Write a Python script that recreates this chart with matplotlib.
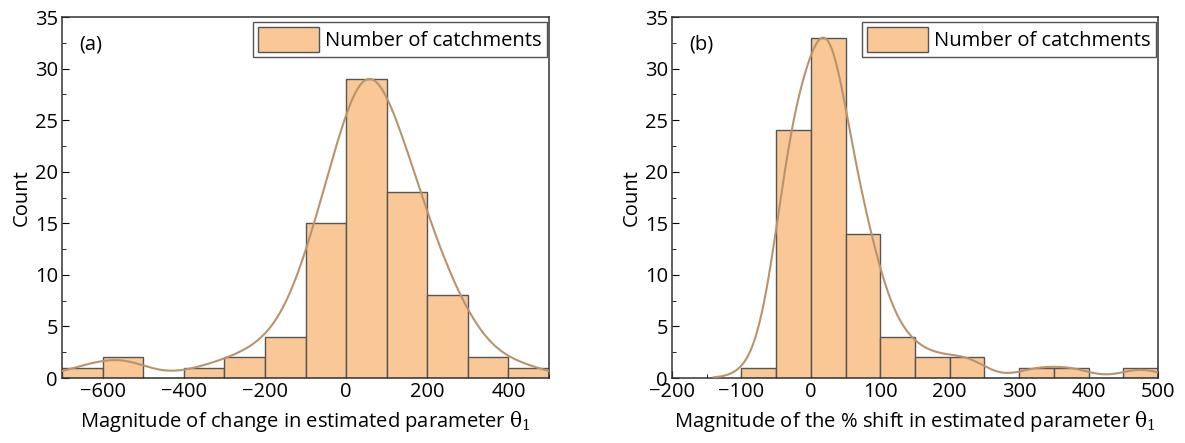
import numpy as np
import matplotlib
matplotlib.use('Agg')
import matplotlib.pyplot as plt
from matplotlib.ticker import MultipleLocator

plt.rcParams['font.family'] = ['Open Sans', 'DejaVu Sans']
plt.rcParams['mathtext.fontset'] = 'dejavuserif'

# --- data ---
# (a) change in theta_1, bins of 100 from -700 to 500
edges_a = [-700, -600, -500, -400, -300, -200, -100, 0, 100, 200, 300, 400, 500]
counts_a = [1, 2, 0, 1, 2, 4, 15, 29, 18, 8, 2, 1]
# (b) % shift in theta_1, bins of 50 from -100 to 500
edges_b = [-100, -50, 0, 50, 100, 150, 200, 250, 300, 350, 400, 450, 500]
counts_b = [1, 24, 33, 14, 4, 2, 2, 0, 1, 1, 0, 1]

bar_color = '#FAC896'
edge_color = '#555555'
curve_color = '#B8946E'
fs = 14.5


def kde_curve(edges, counts, h, x):
    # gaussian kernel smooth of the binned counts, scaled so peak = tallest bin
    centers = (np.array(edges[:-1]) + np.array(edges[1:])) / 2
    w = np.array(counts, dtype=float)
    y = (w[None, :] * np.exp(-(x[:, None] - centers[None, :]) ** 2 / (2 * h ** 2))).sum(axis=1)
    return y * max(counts) / y.max()


def draw(ax, edges, counts, h, xcurve, xlim, xticks, xlabel, tag):
    e = np.array(edges)
    ax.bar(e[:-1], counts, width=np.diff(e), align='edge', color=bar_color,
           edgecolor=edge_color, linewidth=1.0, label='Number of catchments', zorder=2)
    ax.plot(xcurve, kde_curve(edges, counts, h, xcurve), color=curve_color, lw=1.5, zorder=3)
    ax.set_xlim(*xlim)
    ax.set_ylim(0, 35)
    ax.set_xticks(xticks)
    ax.xaxis.set_minor_locator(MultipleLocator((xticks[1] - xticks[0]) / 2))
    ax.yaxis.set_major_locator(MultipleLocator(5))
    ax.yaxis.set_minor_locator(MultipleLocator(2.5))
    ax.tick_params(which='both', direction='in', top=False, right=False, labelsize=fs)
    ax.tick_params(which='major', length=5, pad=3)
    ax.tick_params(which='minor', length=3)
    for s in ax.spines.values():
        s.set_color('#333333')
        s.set_linewidth(1.1)
    ax.set_xlabel(xlabel, fontsize=fs, labelpad=5)
    ax.set_ylabel('Count', fontsize=fs, labelpad=2)
    ax.text(0.035, 0.925, tag, transform=ax.transAxes, fontsize=fs, va='center')
    leg = ax.legend(loc='upper right', bbox_to_anchor=(0.995, 0.985), fontsize=fs,
                    fancybox=False, framealpha=1, edgecolor='#555555',
                    handlelength=3.0, handleheight=1.5, borderpad=0.25,
                    handletextpad=0.3, borderaxespad=0.0)
    leg.get_frame().set_linewidth(1.0)


fig = plt.figure(figsize=(11.85, 4.43), dpi=100)
ax1 = fig.add_axes([62 / 1185, 1 - 378 / 443, 487 / 1185, 361 / 443])
ax2 = fig.add_axes([672 / 1185, 1 - 378 / 443, 486 / 1185, 361 / 443])

draw(ax1, edges_a, counts_a, 68, np.linspace(-700, 500, 400), (-700, 500),
     [-600, -400, -200, 0, 200, 400],
     r'Magnitude of change in estimated parameter $\mathrm{\theta}_1$', '(a)')
draw(ax2, edges_b, counts_b, 29, np.linspace(-140, 500, 400), (-200, 500),
     [-200, -100, 0, 100, 200, 300, 400, 500],
     r'Magnitude of the % shift in estimated parameter $\mathrm{\theta}_1$', '(b)')

fig.savefig('out.png', dpi=100)
